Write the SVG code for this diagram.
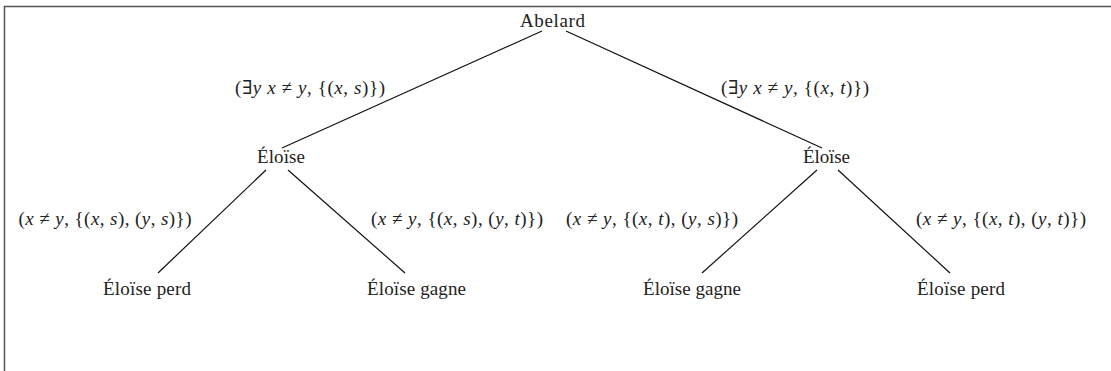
<svg xmlns="http://www.w3.org/2000/svg" width="1111" height="371" viewBox="0 0 1111 371">
<style>
text{font-family:"Liberation Serif","DejaVu Serif",serif;font-size:19px;fill:#222;text-anchor:middle}
.i{font-style:italic}
.e line{stroke:#111;stroke-width:1.2}
</style>
<rect width="1111" height="371" fill="#fff"/>
<path d="M4.5 371V6.5H1111" fill="none" stroke="#555" stroke-width="1.5"/>
<g id="abelard"><text x="552.5" y="27" textLength="65">Abelard</text></g>
<g id="eloise1"><text x="281" y="163" textLength="48">Éloïse</text></g>
<g id="eloise2"><text x="826.5" y="163" textLength="47">Éloïse</text></g>
<g id="leaf1"><text x="147" y="295" textLength="88">Éloïse perd</text></g>
<g id="leaf2"><text x="416.5" y="295" textLength="99">Éloïse gagne</text></g>
<g id="leaf3"><text x="692" y="295" textLength="98">Éloïse gagne</text></g>
<g id="leaf4"><text x="961" y="295" textLength="88">Éloïse perd</text></g>
<g class="e" id="edges">
<line x1="542" y1="31" x2="282" y2="148"/>
<line x1="566" y1="31" x2="822" y2="148"/>
<line x1="266" y1="170" x2="158" y2="273"/>
<line x1="288" y1="170" x2="405" y2="273"/>
<line x1="817" y1="170" x2="702" y2="273"/>
<line x1="838" y1="170" x2="950" y2="273"/>
</g>
<g id="labels">
<text x="310" y="94" textLength="150">(∃<tspan class="i">y</tspan> <tspan class="i">x</tspan> ≠ <tspan class="i">y</tspan>, {(<tspan class="i">x</tspan>, <tspan class="i">s</tspan>)})</text>
<text x="795" y="94" textLength="148">(∃<tspan class="i">y</tspan> <tspan class="i">x</tspan> ≠ <tspan class="i">y</tspan>, {(<tspan class="i">x</tspan>, <tspan class="i">t</tspan>)})</text>
<text x="105" y="225" textLength="173">(<tspan class="i">x</tspan> ≠ <tspan class="i">y</tspan>, {(<tspan class="i">x</tspan>, <tspan class="i">s</tspan>), (<tspan class="i">y</tspan>, <tspan class="i">s</tspan>)})</text>
<text x="457" y="225" textLength="172">(<tspan class="i">x</tspan> ≠ <tspan class="i">y</tspan>, {(<tspan class="i">x</tspan>, <tspan class="i">s</tspan>), (<tspan class="i">y</tspan>, <tspan class="i">t</tspan>)})</text>
<text x="652" y="225" textLength="172">(<tspan class="i">x</tspan> ≠ <tspan class="i">y</tspan>, {(<tspan class="i">x</tspan>, <tspan class="i">t</tspan>), (<tspan class="i">y</tspan>, <tspan class="i">s</tspan>)})</text>
<text x="1001" y="225" textLength="170">(<tspan class="i">x</tspan> ≠ <tspan class="i">y</tspan>, {(<tspan class="i">x</tspan>, <tspan class="i">t</tspan>), (<tspan class="i">y</tspan>, <tspan class="i">t</tspan>)})</text>
</g>
</svg>
